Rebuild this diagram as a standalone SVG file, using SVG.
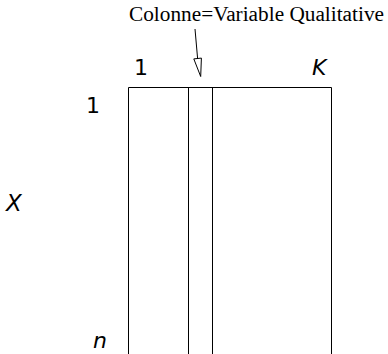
<svg xmlns="http://www.w3.org/2000/svg" width="388" height="354" viewBox="0 0 388 354">
<style>
.ln{fill:none;stroke:#000;stroke-width:1}
.lab{font-family:"DejaVu Sans",sans-serif;font-size:22px;fill:#000}
.it{font-style:italic}
.cap{font-family:"Liberation Serif",serif;font-size:20px;fill:#000}
</style>
<rect width="388" height="354" fill="#fff"/>
<g id="matrix">
<path class="ln" d="M128.5,354 V87.5 H331.5 V354"/>
</g>
<g id="column">
<path class="ln" d="M188.5,354 V87.5 H212.5 V354"/>
</g>
<g id="labels">
<text class="lab" x="134" y="75">1</text>
<text class="lab it" x="312" y="75">K</text>
<text class="lab" x="86" y="113">1</text>
<text class="lab it" x="6" y="211" style="font-size:23px">X</text>
<text class="lab it" x="93" y="348">n</text>
</g>
<g id="annotation">
<text class="cap" x="129" y="20.5" textLength="255" lengthAdjust="spacingAndGlyphs">Colonne=Variable Qualitative</text>
</g>
<g id="connectors">
<line class="ln" x1="195" y1="29" x2="197.6" y2="58.5"/>
<path class="ln" d="M193.8,58.9 L201.4,58.1 L200.7,76.5 Z"/>
</g>
</svg>
